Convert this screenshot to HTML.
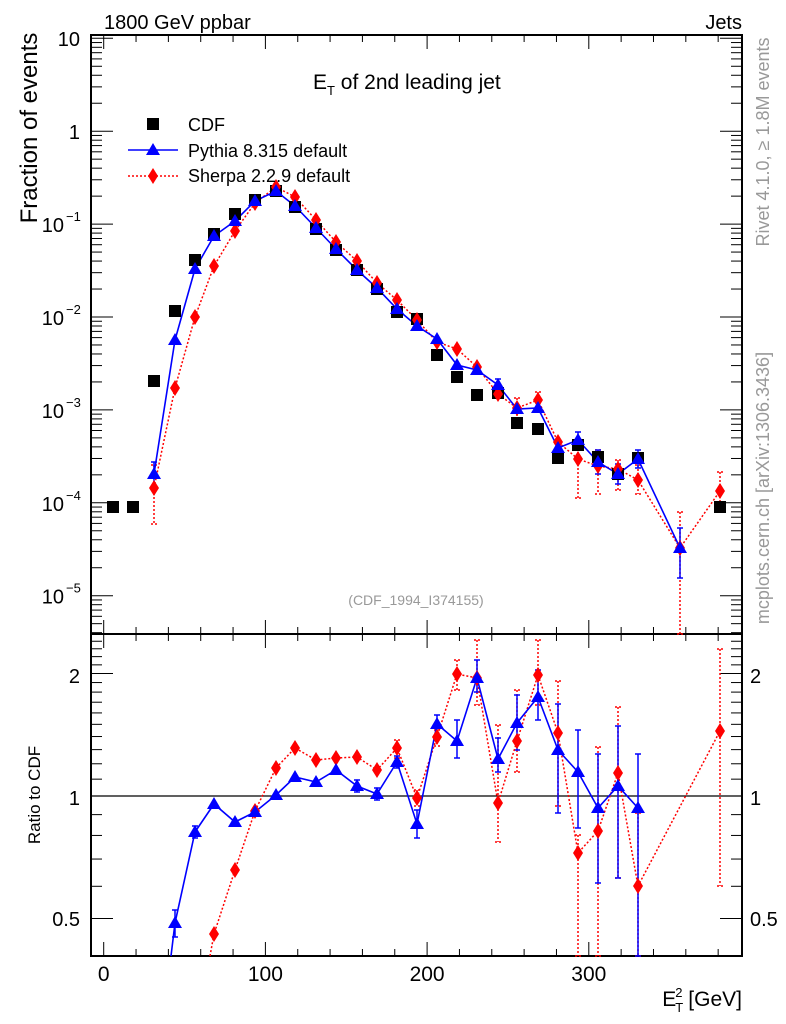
<!DOCTYPE html>
<html><head><meta charset="utf-8"><style>
html,body{margin:0;padding:0;background:#fff;}
svg{display:block;font-family:"Liberation Sans",sans-serif;}
</style></head><body>
<svg id="s" width="786" height="1024" viewBox="0 0 786 1024" xmlns="http://www.w3.org/2000/svg">
<rect x="0" y="0" width="786" height="1024" fill="#fff"/>
<g id="g"></g>
<text x="104" y="29" font-size="20">1800 GeV ppbar</text>
<text x="742" y="29" font-size="20" text-anchor="end">Jets</text>
<text x="313" y="89" font-size="21">E<tspan font-size="13" dy="6">T</tspan><tspan dy="-6"> of 2nd leading jet</tspan></text>
<text x="188" y="131" font-size="18">CDF</text>
<text x="188" y="157" font-size="18">Pythia 8.315 default</text>
<text x="188" y="182" font-size="18">Sherpa 2.2.9 default</text>
<text x="416" y="605" font-size="14" fill="#999" text-anchor="middle">(CDF_1994_I374155)</text>
<text transform="translate(37,128) rotate(-90)" font-size="24" text-anchor="middle">Fraction of events</text>
<text transform="translate(40,795) rotate(-90)" font-size="17" text-anchor="middle">Ratio to CDF</text>
<text transform="translate(769,142) rotate(-90)" font-size="18" fill="#999" text-anchor="middle">Rivet 4.1.0, ≥ 1.8M events</text>
<text transform="translate(769,488) rotate(-90)" font-size="18" fill="#999" text-anchor="middle">mcplots.cern.ch [arXiv:1306.3436]</text>
<text x="742" y="1006" font-size="21" text-anchor="end">E<tspan font-size="13" dy="6" dx="-1">T</tspan><tspan font-size="13" dy="-15" dx="-8">2</tspan><tspan dy="9"> [GeV]</tspan></text>
</svg>
<script>
const g=document.getElementById('g');let h='';
const X0=103.7,XS=1.617,L=91,R=742,T=35,M=634,B=956;
const ln=(a,b,c,d,col='#000',w=1,da='')=>h+=`<line x1="${a}" y1="${b}" x2="${c}" y2="${d}" stroke="${col}" stroke-width="${w}" ${da?`stroke-dasharray="${da}"`:''}/>`;
const tx=(x,y,t,s=20,a='middle',extra='')=>h+=`<text x="${x}" y="${y}" font-size="${s}" text-anchor="${a}" ${extra}>${t}</text>`;
h+=`<rect x="${L}" y="${T}" width="${R-L}" height="${M-T}" fill="none" stroke="#000" stroke-width="2"/>`;
h+=`<rect x="${L}" y="${M}" width="${R-L}" height="${B-M}" fill="none" stroke="#000" stroke-width="2"/>`;
for(let e=0;e<=380;e+=20){const x=X0+e*XS;const big=e%100==0;const l=big?14:7;
 ln(x,T,x,T+l);ln(x,M,x,M-l);ln(x,M,x,M+l);ln(x,B,x,B-l);
 if(big)tx(x,981,e,21);}
const Y10=38.3,DEC=92.9;const ylog=v=>Y10-(Math.log10(v)-1)*DEC;
for(let p=-6;p<=1;p++){for(let k=1;k<10;k++){const v=k*Math.pow(10,p);const y=ylog(v);if(y<T-0.5||y>M)continue;
 const l=k==1?22:11;ln(L,y,L+l,y);ln(R,y,R-l,y);}}
tx(80,46,'10',20,'end');tx(80,139,'1',20,'end');
for(let p=-1;p>=-5;p--){const y=ylog(Math.pow(10,p));tx(64,y+8,'10',20,'end');tx(66,y-3,'−'+(-p),13,'start');}
const R1=796,RD=407;const yr=r=>R1-Math.log10(r)*RD;
[0.5,0.6,0.7,0.8,0.9,1,1.1,1.2,1.3,1.4,1.5,1.6,1.7,1.8,1.9,2,2.1,2.2,2.3,2.4].forEach(r=>{const y=yr(r);if(y<M||y>B)return;const big=(r==0.5||r==1||r==2);const l=big?22:11;ln(L,y,L+l,y);ln(R,y,R-l,y);});
tx(80,683,'2',20,'end');tx(80,805,'1',20,'end');tx(80,926,'0.5',20,'end');
tx(750,683,'2',20,'start');tx(750,805,'1',20,'start');tx(750,926,'0.5',20,'start');
ln(L,R1,R,R1,'#000',1.2);
const sq=(x,y)=>h+=`<rect x="${x-6}" y="${y-6}" width="12" height="12" fill="#000"/>`;
const tri=(x,y)=>h+=`<polygon points="${x},${y-7} ${x-7},${y+5} ${x+7},${y+5}" fill="#00f"/>`;
const dia=(x,y)=>h+=`<polygon points="${x},${y-8} ${x+5},${y} ${x},${y+8} ${x-5},${y}" fill="#f00"/>`;
const err=(x,a,b,col,da)=>{ln(x,a,x,b,col,1.5,da);ln(x-3,a,x+3,a,col,1.5,da);ln(x-3,b,x+3,b,col,1.5,da);};
const path=(pts,col,da)=>h+=`<polyline points="${pts.map(p=>p.join(',')).join(' ')}" fill="none" stroke="${col}" stroke-width="${da?1.5:1.6}" ${da?`stroke-dasharray="${da}"`:''}/>`;
const cdf=[[113,507],[133,507],[154,381],[175,311],[195,260],[214,234],[235,214],[255,200],[276,191],[295,207],[316,229],[336,250],[357,270],[377,289],[397,312],[417,319],[437,355],[457,377],[477,395],[498,393],[517,423],[538,429],[558,458],[578,445],[598,457],[618,474],[638,458],[720,507]];
const py=[[154,474],[175,340],[195,269],[214,236],[235,221],[255,201],[276,191],[295,206],[316,228],[336,249],[357,270],[377,288],[397,309],[417,326],[437,339],[457,365],[477,370],[498,385],[517,409],[538,408],[558,448],[578,440],[598,462],[618,474],[638,459],[680,548]];
const sh=[[154,488],[175,388],[195,317],[214,266],[235,231],[255,203],[276,187],[295,197],[316,220],[336,242],[357,261],[377,283],[397,300],[417,320],[437,342],[457,349],[477,367],[498,394],[517,408],[538,400],[558,442],[578,459],[598,466],[618,469],[638,480],[680,548],[720,491]];
const RD_='2,2';
err(154,465,524,'#f00',RD_);err(578,440,498,'#f00',RD_);err(598,450,494,'#f00',RD_);err(618,460,490,'#f00',RD_);err(638,465,494,'#f00',RD_);err(680,512,634,'#f00',RD_);err(720,472,510,'#f00',RD_);err(517,398,418,'#f00',RD_);err(538,392,409,'#f00',RD_);
err(154,462,486,'#00f');err(578,432,450,'#00f');err(598,450,474,'#00f');err(618,464,484,'#00f');err(638,450,468,'#00f');err(680,528,578,'#00f');err(498,379,391,'#00f');
path(sh,'#f00',RD_);path(py,'#00f');
cdf.forEach(p=>sq(...p));sh.forEach(p=>dia(...p));py.forEach(p=>tri(...p));
sq(153,124);ln(128,150,178,150,'#00f',1.6);tri(153,150);ln(128,176,178,176,'#f00',1.5,RD_);dia(153,176);
const pr=[[171,956],[175,923],[195,832],[214,804],[235,822],[255,812],[276,795],[295,777],[316,782],[336,770],[357,786],[377,794],[397,762],[417,824],[437,724],[457,741],[477,678],[498,759],[517,723],[538,697],[558,750],[578,772],[598,808],[618,786],[638,808]];
const sr=[[210,956],[214,934],[235,870],[255,811],[276,768],[295,748],[316,760],[336,758],[357,757],[377,770],[397,748],[417,798],[437,737],[457,674],[477,678],[498,803],[517,741],[538,675],[558,733],[578,853],[598,831],[618,773],[638,886],[720,731]];
[[457,660,690],[477,640,705],[498,725,842],[517,690,772],[538,640,705],[558,681,806],[578,835,956],[598,747,956],[618,707,878],[638,813,956],[720,649,886],[437,730,746],[397,740,758],[417,790,806]].forEach(e=>err(e[0],e[1],e[2],'#f00',RD_));
[[175,910,937],[195,826,838],[357,780,792],[377,788,800],[397,756,768],[417,810,838],[437,715,735],[457,720,758],[477,660,692],[498,738,772],[517,695,750],[538,670,720],[558,704,813],[578,730,828],[598,754,883],[618,726,878],[638,754,956]].forEach(e=>err(e[0],e[1],e[2],'#00f'));
path(sr,'#f00',RD_);path(pr,'#00f');
sr.slice(1).forEach(p=>dia(...p));pr.slice(1).forEach(p=>tri(...p));
g.innerHTML=h;
</script>
</body></html>
